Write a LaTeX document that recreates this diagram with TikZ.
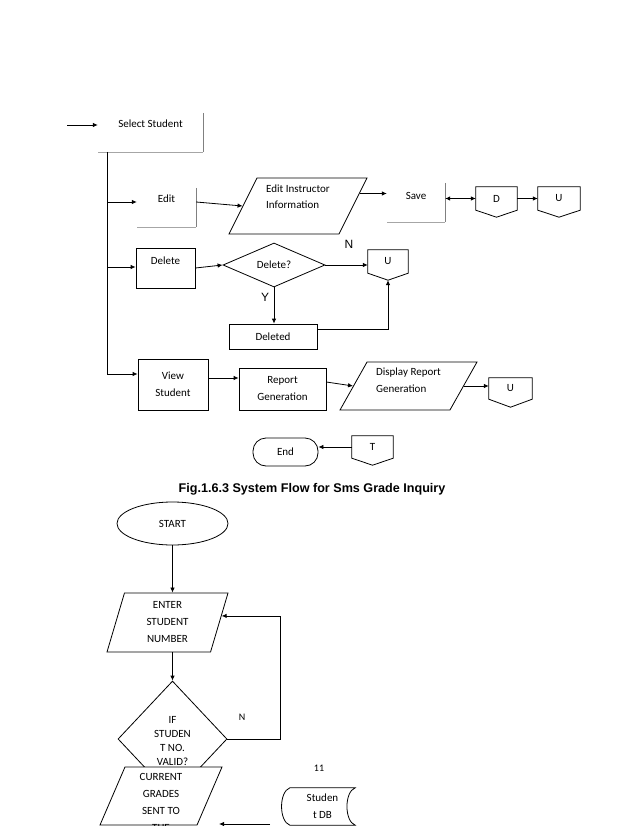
\documentclass[tikz,border=0pt]{standalone}
\usepackage{fontspec}
\setmainfont{Carlito}
\newfontfamily\arialf{Liberation Sans}
\usetikzlibrary{shapes.geometric,arrows.meta,calc}
\newcommand\offpg[2]{\draw[line] (#1.north west) -- (#1.north east) -- (#1.south east) -- ([yshift=-#2]#1.south) -- (#1.south west) -- cycle;}
\begin{document}
\begin{tikzpicture}[x=1pt,y=-1pt,
  every node/.style={font=\fontsize{11}{17}\selectfont, inner sep=0pt},
  line/.style={line width=0.8pt},
  arr/.style={line width=0.8pt,-{Latex[length=5pt,width=4.5pt]}},
  openbox/.style={},
  shadeR/.style={line width=0.9pt, draw=black!50},
  shadeB/.style={line width=0.9pt, draw=black!35},
  box/.style={draw, line width=0.8pt, align=center},
  para/.style={draw, line width=0.8pt, fill=white, trapezium, trapezium stretches body},
  offnode/.style={minimum width=41pt, minimum height=23pt},
  lab/.style={font=\arialf\fontsize{12}{14}\selectfont}
]
\useasboundingbox (0,0) rectangle (638,826);

% ---------- upper diagram ----------
\node[openbox, text height=15pt, text depth=24pt, minimum width=105pt] (sel) at (150.5,132.5) {Select Student};
\draw[shadeR] (sel.north east) -- (sel.south east);
\draw[shadeB] (sel.south east) -- (sel.south west);

\node[openbox, text height=15pt, text depth=24pt, minimum width=59pt] (edit) at (166.5,207.5) {Edit};
\draw[shadeR] (edit.north east) -- (edit.south east);
\draw[shadeB] (edit.south east) -- (edit.south west);

\node[openbox, text height=16.5pt, text depth=22.5pt, minimum width=58pt] (save) at (416,202.5) {Save};
\draw[shadeR] (save.north east) -- (save.south east);
\draw[shadeB] (save.south east) -- (save.south west);

\node[para, align=left, text height=31pt, text depth=25pt, minimum width=138pt,
      trapezium left angle=63.4, trapezium right angle=116.6] (eii) at (298,206) {Edit Instructor\\Information};

\node[offnode] (d) at (496.5,198.5) {D};
\offpg{d}{7pt}
\node[offnode, minimum width=42pt] (u1) at (559,198.5) {U};
\offpg{u1}{7pt}

\node[box, text height=16.5pt, text depth=23.5pt, minimum width=59pt] (del) at (165.5,268) {Delete};
\node[draw, line width=0.8pt, diamond, minimum width=102pt, minimum height=44pt] (dia) at (274,265) {Delete?};
\node[offnode, minimum width=40pt] (u2) at (388,261.5) {U};
\offpg{u2}{7pt}
\node[box, minimum width=88pt, minimum height=25pt] (dlt) at (273,336.5) {Deleted};
\node[lab] (nlab) at (349,244) {N};
\node[lab] (ylab) at (265,297) {Y};

\node[box, minimum width=70pt, minimum height=51pt] (view) at (173,384.5) {View\\Student};
\node[box, minimum width=87pt, minimum height=42pt] (rep) at (282.5,389) {Report\\Generation};
\node[para, align=left, text height=30pt, text depth=18pt, minimum width=137pt,
      trapezium left angle=60.6, trapezium right angle=119.4] (disp) at (408.5,386) {Display Report\\Generation};
\node[offnode, minimum width=43pt, minimum height=21pt] (u3) at (510.5,388.5) {U};
\offpg{u3}{8pt}

\node[draw, line width=0.8pt, rounded corners=13pt, minimum width=65pt, minimum height=28pt] (endn) at (285.5,452) {End};
\node[offnode, minimum height=22pt] (tn) at (372.5,447) {T};
\offpg{tn}{7pt}

\node[font=\arialf\bfseries\fontsize{12.6}{15}\selectfont] (cap) at (312,489) {Fig.1.6.3 System Flow for Sms Grade Inquiry};

% connectors upper
\coordinate (cin) at (67,125);
\draw[arr] (cin) -- (cin -| sel.west);
\coordinate (t0) at (107,152);
\coordinate (t1) at (107,202);
\coordinate (t2) at (107,267);
\coordinate (t3) at (107,374);
\draw[line] (t0) -- (t3);
\draw[arr] (t1) -- (t1 -| edit.west);
\draw[arr] (t2) -- (t2 -| del.west);
\draw[arr] (t3) -- (t3 -| view.west);
\draw[arr] (t1 -| edit.east) -- (eii.west);
\coordinate (es) at ($(eii.top right corner)!0.28!(eii.bottom right corner)$);
\draw[arr] (es) -- (es -| save.west);
\draw[line,{Latex[length=5pt,width=4.5pt]}-{Latex[length=5pt,width=4.5pt]}] (d.west -| save.east) -- (d.west);
\draw[arr] (d.east) -- (u1.west);
\draw[arr] (del.east) -- (dia.west);
\draw[arr] (dia.east) -- (dia.east -| u2.west);
\draw[arr] (dia.south) -- (dia.south |- dlt.north);
\draw[arr] ([yshift=7.5pt]dlt.east) -| ([yshift=-7pt]u2.south);
\coordinate (v1) at ([yshift=6.5pt]view.east);
\draw[arr] (v1) -- (v1 -| rep.west);
\draw[arr] ([yshift=7pt]rep.east) -- (disp.west);
\draw[arr] (disp.east) -- (disp.east -| u3.west);
\draw[arr] (tn.west) -- (tn.west -| endn.east);

% ---------- lower diagram ----------
\node[draw, line width=0.8pt, ellipse, minimum width=111pt, minimum height=43pt] (st) at (172.5,523.5) {START};
\node[para, align=center, minimum width=121pt, minimum height=59pt,
      trapezium left angle=67, trapezium right angle=113] (ent) at (167.5,622.5) {ENTER\\STUDENT\\NUMBER};
\node[draw, line width=0.8pt, diamond, aspect=0.9, align=center, text height=52pt, text depth=0pt,
      font=\fontsize{11}{14}\selectfont,
      minimum width=109pt, minimum height=116pt] (dia2) at (172.5,739) {IF\\STUDEN\\T NO.\\VALID?};
\node[para, text height=58pt, text depth=0pt, minimum width=122pt,
      trapezium left angle=66.7, trapezium right angle=113.3] (cur) at (161,796)
      {\raisebox{-6pt}{\begin{tabular}[b]{@{}c@{}}CURRENT\\GRADES\\SENT TO\\THE\end{tabular}}};
\node[font=\fontsize{10}{12}\selectfont] (n2) at (242,717) {N};
\node[font=\fontsize{10}{12}\selectfont] (pg) at (319,768) {11};

\node[align=center, minimum width=65pt, minimum height=37pt] (db) at (322.5,806.5) {Studen\\t DB};
\draw[line] (db.north west) -- (db.north east)
  .. controls ($(db.north east)+(-11,4)$) and ($(db.south east)+(-11,-4)$) .. (db.south east)
  -- (db.south west)
  .. controls ($(db.south west)+(-11,-4)$) and ($(db.north west)+(-11,4)$) .. (db.north west);

\draw[arr] (st.south) -- (st.south |- ent.north);
\draw[arr] (st.south |- ent.south) -- (dia2.north);
\coordinate (ep) at ($(ent.top right corner)!0.39!(ent.bottom right corner)$);
\draw[arr] (dia2.east) -- ++(53,0) |- (ep);
\coordinate (dbl) at (270,824);
\coordinate (dbt) at (219,824);
\draw[arr] (dbl) -- (dbt);
\end{tikzpicture}
\end{document}
